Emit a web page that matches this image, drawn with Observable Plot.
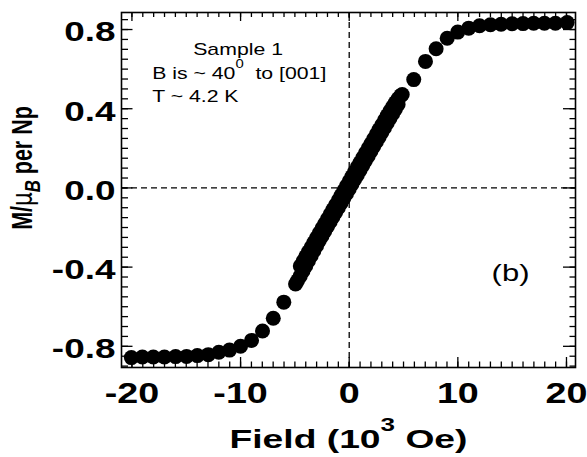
<!DOCTYPE html>
<html><head><meta charset="utf-8">
<script src="https://cdn.jsdelivr.net/npm/d3@7"></script>
<script src="https://cdn.jsdelivr.net/npm/@observablehq/plot@0.6"></script>
<style>
html,body{margin:0;padding:0;background:#fff;}
svg{display:block;}
</style></head><body><div id="chart"></div>
<script>
// ---- data (field in 10^3 Oe, M in muB per Np) ----
const leftTailX = [-20.05,-19.04,-18.03,-17.01,-15.98,-14.97,-13.98,-12.97,-12.0,-11.02,-10.0,-8.99,-7.98,-6.99,-6.02];
const leftTailY = [-0.857,-0.854,-0.854,-0.854,-0.852,-0.851,-0.847,-0.842,-0.830,-0.819,-0.800,-0.770,-0.723,-0.658,-0.577];
const branchAX = [-4.5,-4.25,-4,-3.75,-3.5,-3.25,-3,-2.75,-2.5,-2.25,-2,-1.75,-1.5,-1.25,-1,-0.75,-0.5,-0.25,0,0.25,0.5,0.75,1,1.25,1.5,1.75,2,2.25,2.5,2.75,3,3.25,3.5,3.75,4,4.25,4.5,4.75,4.88];
const branchAY = [-0.394,-0.371,-0.347,-0.323,-0.300,-0.276,-0.252,-0.228,-0.204,-0.181,-0.157,-0.133,-0.109,-0.086,-0.062,-0.038,-0.014,0.010,0.033,0.057,0.081,0.105,0.128,0.152,0.176,0.200,0.223,0.247,0.271,0.295,0.318,0.342,0.366,0.388,0.410,0.431,0.450,0.466,0.472];
const branchBX = [-4.94,-4.75,-4.5,-4.25,-4,-3.75,-3.5,-3.25,-3,-2.75,-2.5,-2.25,-2,-1.75,-1.5,-1.25,-1,-0.75,-0.5,-0.25,0,0.25,0.5,0.75,1,1.25,1.5,1.75,2,2.25,2.5,2.75,3,3.25,3.5,3.75,4,4.25,4.5];
const branchBY = [-0.485,-0.468,-0.444,-0.419,-0.394,-0.368,-0.342,-0.317,-0.292,-0.266,-0.242,-0.218,-0.195,-0.171,-0.147,-0.124,-0.100,-0.076,-0.052,-0.029,-0.005,0.019,0.043,0.066,0.090,0.114,0.138,0.161,0.185,0.209,0.233,0.256,0.280,0.304,0.328,0.351,0.375,0.398,0.421];
const rightTailX = [5.94,7.02,8.0,9.02,9.99,11.0,12.0,13.0,13.98,15.0,16.0,16.98,17.97,18.98,20.06];
const rightTailY = [0.547,0.639,0.703,0.756,0.787,0.807,0.819,0.824,0.827,0.829,0.830,0.832,0.832,0.832,0.835];

const xMajor = [-20,-10,0,10,20];
const yMajor = [-0.8,-0.4,0,0.4,0.8];
const xMinor = d3.range(-20,21,1);
const yMinor = d3.range(-18,18).map(i => +(i*0.05).toFixed(2));

const annotLines = ["Sample 1","B is ~ 40^{0}  to [001]","T ~ 4.2 K"];
const panelLabel = "(b)";
const xTitle = "Field (10^{3} Oe)";
const yTitle = "M/!{μ}_{B} per Np";

// ---- build table ----
const pts = [];
const addSeries = (X, Y) => X.forEach((x, i) => pts.push({x, y: Y[i]}));
addSeries(leftTailX, leftTailY);
addSeries(branchAX, branchAY);
addSeries(branchBX, branchBY);
addSeries(rightTailX, rightTailY);

const W = 587, H = 457, mL = 121, mR = 12, mT = 12, mB = 90;
const fh = H - mT - mB, fw = W - mL - mR;
const ink = "#000";

const plot = Plot.plot({
  width: W, height: H,
  marginLeft: mL, marginRight: mR, marginTop: mT, marginBottom: mB,
  style: {fontFamily: "'Liberation Sans', Arial, sans-serif", background: "#fff", color: "#000", overflow: "visible"},
  x: {domain: [-20.96, 20.83], axis: null},
  y: {domain: [-0.907, 0.886], axis: null},
  marks: [
    Plot.ruleX([0], {stroke: ink, strokeWidth: 1.3, strokeDasharray: "6,4"}),
    Plot.ruleY([0], {stroke: ink, strokeWidth: 1.3, strokeDasharray: "6,4"}),
    Plot.dot(pts, {x: "x", y: "y", r: 7.5, fill: ink, stroke: null}),
    // inward ticks: bottom, top, left, right
    Plot.tickX(xMinor, {x: d => d, insetTop: fh - 5.5, stroke: ink, strokeWidth: 1.3}),
    Plot.tickX(xMajor, {x: d => d, insetTop: fh - 10, stroke: ink, strokeWidth: 1.3}),
    Plot.tickX(xMinor, {x: d => d, insetBottom: fh - 5, stroke: ink, strokeWidth: 1.3}),
    Plot.tickX(xMajor, {x: d => d, insetBottom: fh - 9, stroke: ink, strokeWidth: 1.3}),
    Plot.tickY(yMinor, {y: d => d, insetRight: fw - 7, stroke: ink, strokeWidth: 1.3}),
    Plot.tickY(yMajor, {y: d => d, insetRight: fw - 11.5, stroke: ink, strokeWidth: 1.3}),
    Plot.tickY(yMinor, {y: d => d, insetLeft: fw - 5.5, stroke: ink, strokeWidth: 1.3}),
    Plot.tickY(yMajor, {y: d => d, insetLeft: fw - 12, stroke: ink, strokeWidth: 1.3}),
    Plot.frame({stroke: ink, strokeWidth: 1.6}),
    Plot.axisX(xMajor, {anchor: "bottom", tickSize: 0, tickPadding: 15, tickFormat: d => String(d),
      fontSize: 29, fontWeight: "bold", label: null, fill: ink}),
    Plot.axisY(yMajor, {anchor: "left", tickSize: 0, tickPadding: 6, tickFormat: d => d.toFixed(1),
      fontSize: 28, fontWeight: "bold", label: null, fill: ink, dy: 3}),
    Plot.text([annotLines[0]], {x: -10.23, y: 0.671, text: d => d, textAnchor: "middle", lineAnchor: "bottom", fontSize: 17, fontWeight: "normal", fill: ink, ariaDescription: "annot"}),
    Plot.text([annotLines[1]], {x: -18.14, y: 0.550, text: d => d, textAnchor: "start", lineAnchor: "bottom", fontSize: 17, fontWeight: "normal", fill: ink, ariaDescription: "annot"}),
    Plot.text([annotLines[2]], {x: -18.14, y: 0.434, text: d => d, textAnchor: "start", lineAnchor: "bottom", fontSize: 17, fontWeight: "normal", fill: ink, ariaDescription: "annot"}),
    Plot.text([panelLabel], {x: 14.85, y: -0.47, text: d => d, textAnchor: "middle", lineAnchor: "bottom", fontSize: 23, fontWeight: "normal", fill: ink, ariaDescription: "panel"}),
    Plot.text([xTitle], {frameAnchor: "bottom", dy: 80, text: d => d, textAnchor: "middle", lineAnchor: "bottom", fontSize: 26, fontWeight: "bold", fill: ink, ariaDescription: "x-title"}),
    Plot.text([yTitle], {frameAnchor: "left", dx: -89.3, dy: -22, rotate: -90, text: d => d, textAnchor: "middle", lineAnchor: "bottom", fontSize: 21.5, fontWeight: "bold", fill: ink, ariaDescription: "y-title"})
  ]
});
document.getElementById("chart").appendChild(plot);

// ---- rich text (super/subscripts) ----
const NS = "http://www.w3.org/2000/svg";
function markup(t) {
  const s = t.textContent;
  if (!/[\^_!]\{/.test(s)) return;
  const fs = parseFloat(getComputedStyle(t).fontSize) || 16;
  const parts = s.split(/(\^\{[^}]*\}|_\{[^}]*\}|!\{[^}]*\})/).filter(p => p !== "");
  t.textContent = "";
  t.style.whiteSpace = "pre";
  let shift = 0;
  for (const p of parts) {
    const ts = document.createElementNS(NS, "tspan");
    let target = 0;
    if (p.startsWith("^{")) {
      ts.textContent = p.slice(2, -1);
      ts.setAttribute("font-size", (0.7 * fs) + "px");
      target = -0.62 * fs;
    } else if (p.startsWith("_{")) {
      ts.textContent = p.slice(2, -1);
      ts.setAttribute("font-size", (0.78 * fs) + "px");
      ts.setAttribute("font-style", "italic");
      target = 0.28 * fs;
    } else if (p.startsWith("!{")) {
      ts.textContent = p.slice(2, -1);
      ts.setAttribute("font-weight", "normal");
      ts.setAttribute("font-family", "'DejaVu Sans', sans-serif");
    } else {
      ts.textContent = p;
    }
    const d = target - shift;
    if (d) ts.setAttribute("dy", d);
    shift = target;
    t.appendChild(ts);
  }
}
plot.querySelectorAll("text").forEach(markup);

// ---- horizontal stretch to match reference's wide lettering ----
function stretch(t, kx, ky) {
  const tr = t.getAttribute("transform");
  if (tr) t.setAttribute("transform", tr + ` scale(${kx},${ky})`);
  else {
    const x = +t.getAttribute("x") || 0, y = +t.getAttribute("y") || 0;
    t.setAttribute("transform", `translate(${x},${y}) scale(${kx},${ky}) translate(${-x},${-y})`);
  }
}
plot.querySelectorAll("g").forEach(g => {
  const lab = g.getAttribute("aria-label") || "";
  const desc = g.getAttribute("aria-description") || "";
  g.querySelectorAll(":scope > text").forEach(t => {
    if (lab === "x-axis tick label") stretch(t, 1.3, 1);
    else if (lab === "y-axis tick label") stretch(t, 1.32, 1);
    else if (desc === "annot") stretch(t, 1.25, 1);
    else if (desc === "panel") stretch(t, 1.35, 1);
    else if (desc === "x-title") { const w = t.getBBox().width; stretch(t, 238 / w, 1); }
    else if (desc === "y-title") stretch(t, 1, 1.33);
  });
});
</script>
</body></html>
